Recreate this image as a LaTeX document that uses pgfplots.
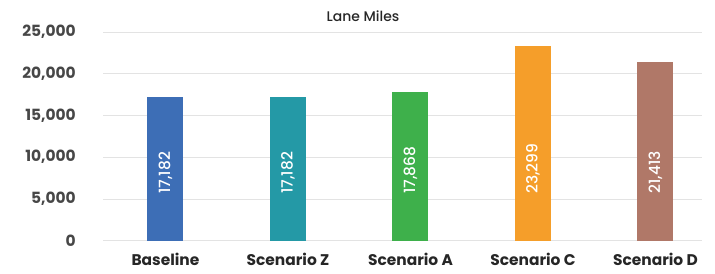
\documentclass[border=0pt]{standalone}
\usepackage{fontspec}
\setmainfont{Poppins}
\newfontfamily\medfont{Poppins}[UprightFont={* Medium}]
\usepackage{pgfplots}
\pgfplotsset{compat=1.18}
\definecolor{cBase}{HTML}{3D6EB6}
\definecolor{cZ}{HTML}{2499A6}
\definecolor{cA}{HTML}{3EB04B}
\definecolor{cC}{HTML}{F59E2A}
\definecolor{cD}{HTML}{B07868}
\definecolor{gridc}{HTML}{E3E3E3}
\definecolor{tickc}{HTML}{474747}
\begin{document}
\begin{tikzpicture}
\useasboundingbox (0,0) rectangle (715bp,274bp);
\begin{axis}[
  at={(103bp,33.3bp)}, anchor=south west,
  scale only axis, width=599bp, height=208.7bp,
  xmin=-0.51, xmax=4.38, ymin=0, ymax=25000,
  axis line style={draw=none},
  ytick={0,5000,10000,15000,20000,25000},
  xtick={0,1,2,3,4},
  xticklabels={Baseline,Scenario Z,Scenario A,Scenario C,Scenario D},
  major tick length=0pt,
  ymajorgrids, grid style={gridc, line width=0.8bp},
  /pgf/number format/assume math mode=true,
  /pgf/number format/1000 sep={,},
  scaled y ticks=false,
  yticklabel style={font=\fontsize{15.5}{15.5}\selectfont\bfseries, text=tickc, inner sep=0pt, anchor=east, xshift=-27bp},
  xticklabel style={font=\fontsize{15.5}{15.5}\selectfont\bfseries, text=black!85, inner sep=0pt, anchor=north, yshift=-12bp},
  ybar, bar width=36bp, bar shift=0pt,
  clip=false,
]
\addplot[fill=cBase, draw=none] coordinates {(0,17182)};
\addplot[fill=cZ, draw=none] coordinates {(1,17182)};
\addplot[fill=cA, draw=none] coordinates {(2,17868)};
\addplot[fill=cC, draw=none] coordinates {(3,23299)};
\addplot[fill=cD, draw=none] coordinates {(4,21413)};
\addplot[draw=none, fill=none, nodes near coords, point meta=explicit symbolic,
  nodes near coords style={rotate=90, anchor=west, text=white, inner sep=0pt,
  font=\fontsize{15.5}{15.5}\selectfont\medfont}]
  coordinates {(0,5600)[17,182] (1,5600)[17,182] (2,5600)[17,868] (3,5600)[23,299] (4,5600)[21,413]};
\end{axis}
\node[font=\fontsize{14}{14}\selectfont\medfont, text=black!85] at (363bp,258bp) {Lane Miles};
\end{tikzpicture}
\end{document}
